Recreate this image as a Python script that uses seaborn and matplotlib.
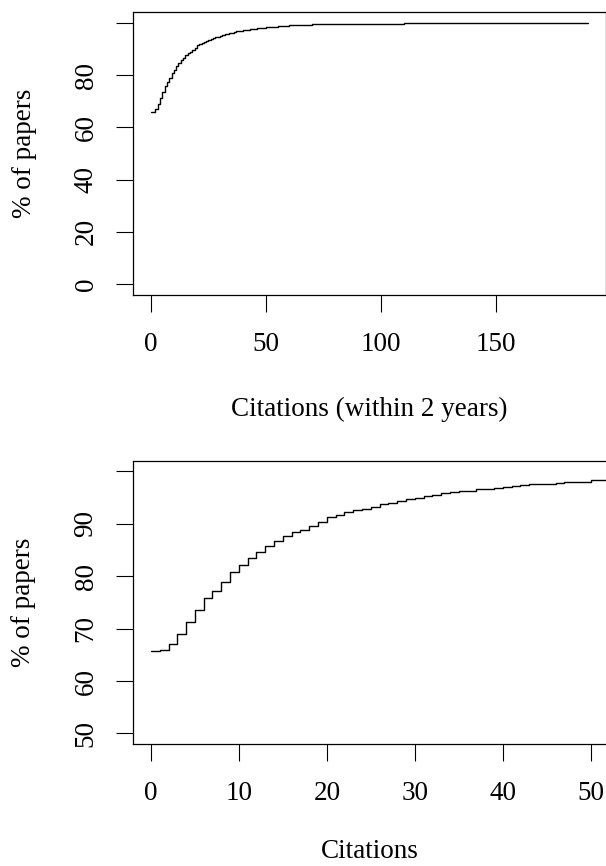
import numpy as np
import pandas as pd
import seaborn as sns
import matplotlib
matplotlib.use("Agg")
import matplotlib.pyplot as plt

# cumulative % of papers with <= n citations
citations = list(range(0, 52))
pct_papers = [65.8, 66.0, 67.0, 69.0, 71.3, 73.5, 75.8, 77.2, 78.9, 80.8,
              82.1, 83.4, 84.7, 85.8, 86.7, 87.6, 88.5, 88.9, 89.6, 90.4,
              91.3, 91.7, 92.2, 92.6, 92.9, 93.3, 93.7, 94.0, 94.4, 94.7,
              95.0, 95.4, 95.6, 95.8, 96.0, 96.2, 96.3, 96.7, 96.7, 96.8,
              97.1, 97.2, 97.4, 97.6, 97.6, 97.7, 97.8, 97.9, 97.9, 98.0,
              98.3, 98.4]
# long tail (top panel only)
tail_citations = [55, 60, 65, 70, 80, 90, 100, 110, 125, 150, 190]
tail_pct = [98.6, 99.0, 99.2, 99.35, 99.5, 99.6, 99.7, 99.8, 99.85, 99.9, 100.0]

df = pd.DataFrame({
    "citations": citations + tail_citations,
    "pct": pct_papers + tail_pct,
})

sns.set_theme(style="ticks")
plt.rcParams['font.family'] = ['Liberation Serif', 'DejaVu Serif']
plt.rcParams['axes.linewidth'] = 0.9
plt.rcParams['axes.edgecolor'] = 'black'
plt.rcParams['text.color'] = 'black'
plt.rcParams['axes.labelcolor'] = 'black'

FS = 19.5

fig = plt.figure(figsize=(6.06, 8.66), dpi=100)
ax1 = fig.add_axes([0.22, 0.6599, 0.78, 0.3259])
ax2 = fig.add_axes([0.22, 0.1409, 0.7838, 0.3268])

panels = [
    (ax1, (-7.6, 197.6), (-4, 104), [0, 50, 100, 150], [0, 20, 40, 60, 80, 100],
     "Citations (within 2 years)"),
    (ax2, (-2, 52), (48, 102), [0, 10, 20, 30, 40, 50], [50, 60, 70, 80, 90, 100],
     "Citations"),
]

for ax, xl, yl, xt, yt, xlab in panels:
    sns.lineplot(data=df, x="citations", y="pct", ax=ax, color="black",
                 linewidth=1.0, drawstyle="steps-post", estimator=None)
    ax.set_xlim(*xl)
    ax.set_ylim(*yl)
    ax.set_xticks(xt)
    ax.set_xticklabels([str(t) for t in xt])
    ax.set_yticks(yt)
    ax.set_yticklabels([str(t) for t in yt[:-1]] + [""])
    ax.tick_params(axis='both', length=12, width=0.8, color='black',
                   labelsize=FS, labelcolor='black')
    ax.tick_params(axis='x', pad=15)
    ax.tick_params(axis='y', pad=13, labelrotation=90)
    for lab in ax.get_yticklabels():
        lab.set_va('center')
    ax.set_xlabel(xlab, fontsize=FS)
    ax.set_ylabel("% of papers", fontsize=FS)
    for s in ax.spines.values():
        s.set_visible(True)
        s.set_color('black')

ax1.xaxis.set_label_coords(0.5, -(409 - 294.5) / 282.2)
ax1.xaxis.label.set_va('center')
ax2.xaxis.set_label_coords(0.5 * 0.78 / 0.7838, -(852 - 744) / 283.0)
ax2.xaxis.label.set_va('center')
for ax in (ax1, ax2):
    ax.yaxis.set_label_coords(-(133.3 - 24) / 472.7, 0.5)
    ax.yaxis.label.set_va('center')

fig.savefig("out.png", dpi=100)
